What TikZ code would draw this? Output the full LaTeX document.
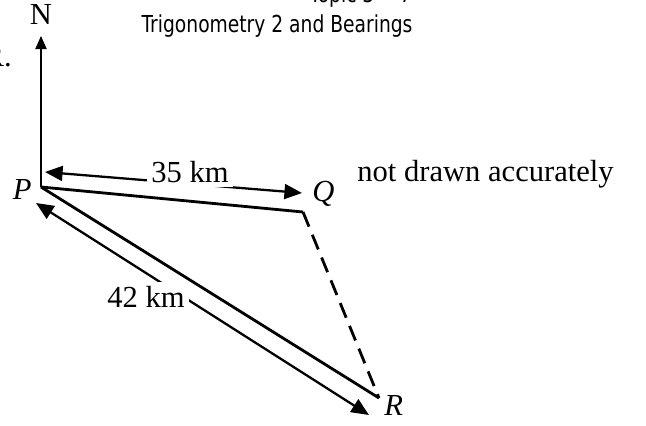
\documentclass[tikz,border=0pt]{standalone}
\usepackage{fontspec}
\setmainfont{Liberation Serif}
\newfontfamily\headfont[FakeStretch=0.8]{DejaVu Sans}
\usepackage{tikz}
\usetikzlibrary{arrows.meta}
\tikzstyle{lbl}=[font=\fontsize{17.4}{20}\selectfont,inner sep=0pt]
\tikzstyle{head}=[font=\headfont\fontsize{13.3}{16}\selectfont,inner sep=0pt]
\tikzstyle{side}=[draw=black,line width=1.6pt]
\tikzstyle{dim}=[{Triangle[length=10pt,width=8.5pt]}-{Triangle[length=10pt,width=8.5pt]},draw=black,line width=1.3pt]
\tikzstyle{north}=[-{Triangle[length=7.5pt,width=6.5pt]},draw=black,line width=0.6pt]

\begin{document}
\begin{tikzpicture}[x=0.02cm,y=-0.02cm]
  \useasboundingbox (0,0) rectangle (646,426);
  \node[head,anchor=base east] (topic) at (412,3) {Topic 3 -- 7};
  \node[head,anchor=base] (title) at (277,32) {Trigonometry 2 and Bearings};
  \node[lbl,anchor=base east] (cut) at (12,66) {R.};
  \node[lbl,anchor=base west] (note) at (357,181) {not drawn accurately};
  \coordinate (P) at (41,187);
  \coordinate (Q) at (303,212);
  \coordinate (R) at (379,398);
  \coordinate (Ntip) at (41,36);
  \coordinate (a1) at (45,172);
  \coordinate (a2) at (302,193);
  \coordinate (b1) at (36,203);
  \coordinate (b2) at (369,415);
  \node[lbl,anchor=base] (Nlab) at (41,25) {N};
  \node[lbl,anchor=base east] (Plab) at (32,199) {\textit{P}};
  \node[lbl,anchor=base west] (Qlab) at (312,201) {\textit{Q}};
  \node[lbl,anchor=base west] (Rlab) at (384,415) {\textit{R}};
  \draw[north] (P) -- (Ntip);
  \draw[side] (P) -- (Q);
  \draw[side,dash pattern=on 9pt off 5pt] (Q) -- (R);
  \draw[side] (P) -- (R);
  \draw[dim] (a1) -- (a2);
  \node[lbl,fill=white,inner sep=2.5pt] (d35) at (190,172) {35 km};
  \draw[dim] (b1) -- (b2);
  \node[lbl,fill=white,inner sep=2.5pt] (d42) at (146,297) {42 km};
\end{tikzpicture}
\end{document}
